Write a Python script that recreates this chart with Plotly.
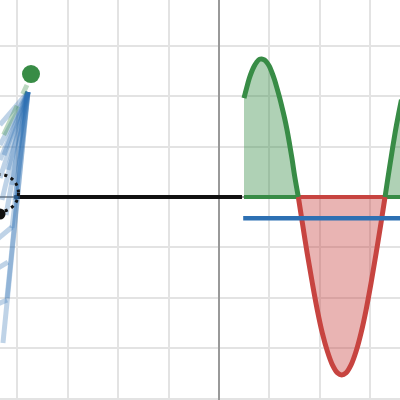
import plotly.graph_objects as go

# ---- data (graph units, 1 grid = 1 unit) ----
green1_x = [0.496, 0.55, 0.60, 0.65, 0.70, 0.75, 0.80, 0.847, 0.90, 0.95, 1.00, 1.05, 1.10,
            1.15, 1.20, 1.25, 1.30, 1.35, 1.40, 1.45, 1.50, 1.574]
green1_y = [1.96, 2.17, 2.35, 2.49, 2.60, 2.68, 2.73, 2.74, 2.72, 2.67, 2.59, 2.47, 2.33,
            2.16, 1.98, 1.78, 1.57, 1.33, 1.05, 0.75, 0.42, 0.0]
red_x = [1.574, 1.65, 1.75, 1.85, 1.95, 2.05, 2.15, 2.25, 2.35, 2.435, 2.52, 2.62, 2.72,
         2.82, 2.92, 3.02, 3.12, 3.22, 3.294]
red_y = [0.0, -0.49, -1.12, -1.70, -2.24, -2.70, -3.06, -3.33, -3.49, -3.53, -3.49, -3.33,
         -3.06, -2.69, -2.23, -1.69, -1.10, -0.48, 0.0]
green2_x = [3.294, 3.35, 3.40, 3.45, 3.50, 3.55, 3.62]
green2_y = [0.0, 0.37, 0.69, 1.01, 1.31, 1.58, 1.93]

blue_level = -0.423
blue_x = [0.48, 3.7]
black_x = [-4.06, 0.456]

# rotating-vector trail on the left
hub = (-3.790, 2.083)
arm_ends_x = [-4.345, -4.345, -4.345, -4.266, -4.187, -4.107, -4.048, -4.345, -4.306,
              -4.226, -4.107, -4.206, -4.286]
arm_ends_y = [1.429, 1.032, 0.734, 0.833, 0.536, 0.238, -0.060, 0.377, -0.060,
              -0.357, -0.615, -2.002, -2.897]
tail_start_x = [-4.841, -4.841, -4.841]
tail_start_y = [-1.210, -1.690, -2.315]
tail_end_x = [-4.107, -4.187, -4.206]
tail_end_y = [-0.595, -1.290, -2.044]

green_dot = (-3.730, 2.440)
dash_x = [-3.810, -4.385]
dash_y = [2.222, 0.992]
black_dot = (-4.345, -0.337)
circle_c = (-4.345, 0.079)
circle_r = 0.367

GREEN = "#388c46"
RED = "#c74440"
BLUE = "#2d70b3"

fig = go.Figure()

# black line
fig.add_trace(go.Scatter(x=black_x, y=[0, 0], mode="lines",
                         line=dict(color="#111111", width=4), hoverinfo="skip"))

# blue arms
for ex, ey in zip(arm_ends_x, arm_ends_y):
    fig.add_trace(go.Scatter(x=[hub[0], ex], y=[hub[1], ey], mode="lines",
                             line=dict(color=BLUE, width=5), opacity=0.3, hoverinfo="skip"))
for sx, sy, ex, ey in zip(tail_start_x, tail_start_y, tail_end_x, tail_end_y):
    fig.add_trace(go.Scatter(x=[sx, ex], y=[sy, ey], mode="lines",
                             line=dict(color=BLUE, width=5), opacity=0.3, hoverinfo="skip"))

# green dashed
fig.add_trace(go.Scatter(x=dash_x, y=dash_y, mode="lines",
                         line=dict(color=GREEN, width=5, dash="10px,13px,32px,12px"), opacity=0.33,
                         hoverinfo="skip"))
# green dot
fig.add_trace(go.Scatter(x=[green_dot[0]], y=[green_dot[1]], mode="markers",
                         marker=dict(color=GREEN, size=18, line=dict(width=0)), hoverinfo="skip"))
# black dot
fig.add_trace(go.Scatter(x=[black_dot[0]], y=[black_dot[1]], mode="markers",
                         marker=dict(color="#111111", size=11, line=dict(width=0)), hoverinfo="skip"))

# fills
for xs, ys, col in [(green1_x, green1_y, "rgba(56,140,70,0.4)"),
                    (red_x, red_y, "rgba(199,68,64,0.4)"),
                    (green2_x, green2_y, "rgba(56,140,70,0.4)")]:
    fig.add_trace(go.Scatter(x=xs + [xs[-1], xs[0]], y=ys + [0, 0], mode="lines",
                             fill="toself", fillcolor=col, line=dict(width=0), hoverinfo="skip"))

# baselines
fig.add_trace(go.Scatter(x=[green1_x[0], green1_x[-1]], y=[0, 0], mode="lines",
                         line=dict(color=GREEN, width=4), hoverinfo="skip"))
fig.add_trace(go.Scatter(x=[green2_x[0], green2_x[-1]], y=[0, 0], mode="lines",
                         line=dict(color=GREEN, width=4), hoverinfo="skip"))
fig.add_trace(go.Scatter(x=[red_x[0], red_x[-1]], y=[0, 0], mode="lines",
                         line=dict(color=RED, width=4), hoverinfo="skip"))

# curves
fig.add_trace(go.Scatter(x=green1_x, y=green1_y, mode="lines",
                         line=dict(color=GREEN, width=5, shape="spline"), hoverinfo="skip"))
fig.add_trace(go.Scatter(x=red_x, y=red_y, mode="lines",
                         line=dict(color=RED, width=5, shape="spline"), hoverinfo="skip"))
fig.add_trace(go.Scatter(x=green2_x, y=green2_y, mode="lines",
                         line=dict(color=GREEN, width=5, shape="spline"), hoverinfo="skip"))

# blue horizontal
fig.add_trace(go.Scatter(x=blue_x, y=[blue_level, blue_level], mode="lines",
                         line=dict(color=BLUE, width=4.5), hoverinfo="skip"))

fig.add_shape(type="circle", xref="x", yref="y",
              x0=circle_c[0] - circle_r, x1=circle_c[0] + circle_r,
              y0=circle_c[1] - circle_r, y1=circle_c[1] + circle_r,
              line=dict(color="#111111", width=3, dash="3px,4px"))

axis_common = dict(showticklabels=False, ticks="", dtick=1, tick0=0,
                   showgrid=True, gridcolor="#e3e3e3", gridwidth=2,
                   zeroline=True, zerolinecolor="#999999", zerolinewidth=2,
                   showline=False, fixedrange=True)
fig.update_layout(
    width=400, height=400, margin=dict(l=0, r=0, t=0, b=0),
    paper_bgcolor="white", plot_bgcolor="white", showlegend=False,
    xaxis=dict(range=[-4.345, 3.591], **axis_common),
    yaxis=dict(range=[-4.028, 3.909], **axis_common),
)
fig.write_html(
    "out.html",
    config={"displayModeBar": False},
    post_script="document.documentElement.style.margin='0';document.body.style.margin='0';"
                "document.body.style.overflow='hidden';",
)
